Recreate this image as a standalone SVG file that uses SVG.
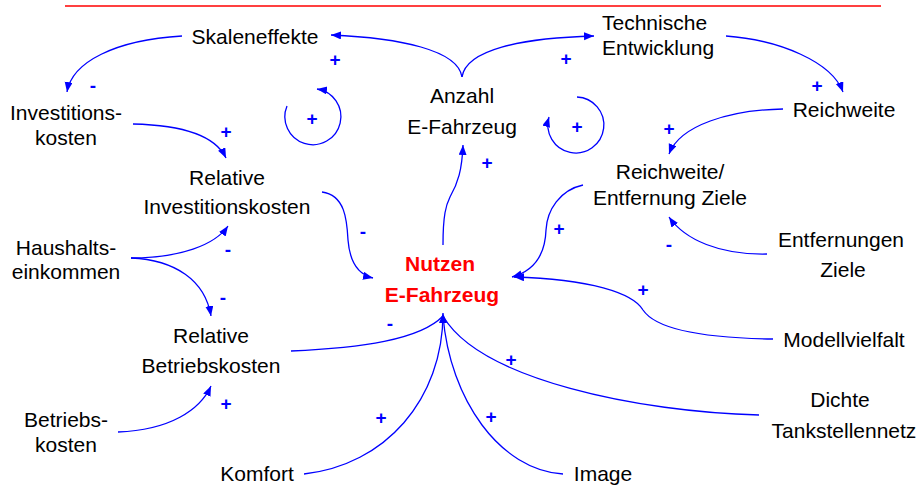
<svg xmlns="http://www.w3.org/2000/svg" width="919" height="487" viewBox="0 0 919 487">
<style>
.t{font-family:"Liberation Sans",Arial,sans-serif;font-size:21px;fill:#000;text-anchor:middle}
.s{text-anchor:start}
.n{font-family:"Liberation Sans",Arial,sans-serif;font-size:21px;font-weight:bold;fill:#FF0000;text-anchor:middle}
.l{font-family:"Liberation Sans",Arial,sans-serif;font-size:19px;font-weight:bold;fill:#0000FF;text-anchor:middle}
.c{fill:none;stroke:#0000FF;stroke-width:1.3;marker-end:url(#ah)}
.p{fill:none;stroke:#0000FF;stroke-width:1.3}
</style>
<defs>
<marker id="ah" markerUnits="userSpaceOnUse" markerWidth="11" markerHeight="9" refX="10" refY="4" orient="auto">
<path d="M0,0 L10,4 L0,8 z" fill="#0000FF"/>
</marker>
</defs>
<line x1="65" y1="6" x2="881" y2="6" stroke="#FF0000" stroke-width="1.5"/>
<g id="connectors">
<path class="c" d="M182,36 C115,40 72,62 67,92"/>
<path class="c" d="M462,77 C458,50 400,38 331,35"/>
<path class="c" d="M462,77 C466,50 520,38 594,36"/>
<path class="c" d="M726,36 C780,40 832,62 843,92"/>
<path class="c" d="M783,109 C730,110 680,125 669,154"/>
<path class="c" d="M133,124 C180,125 215,135 226,158"/>
<path class="c" d="M131,258 C180,258 215,245 228,226"/>
<path class="c" d="M131,258 C175,260 205,280 211,316"/>
<path class="c" d="M322,192 C345,195 347,220 348,240 C350,265 360,275 373,278"/>
<path class="c" d="M443,245 C443,215 446,205 450,197 C458,183 462,170 463,145"/>
<path class="c" d="M583,185 C560,190 547,210 546,230 C545,260 530,272 512,277"/>
<path class="c" d="M767,254 C720,255 685,240 669,217"/>
<path class="c" d="M773,339 C700,338 655,328 643,310 C633,293 590,279 514,277"/>
<path class="p" d="M291,351 C360,348 420,340 443,316"/>
<path class="c" d="M304,474 C385,465 443,400 443,313"/>
<path class="p" d="M563,474 C500,470 450,400 443,316"/>
<path class="p" d="M759,415 C640,412 480,380 443,316"/>
<path class="c" d="M118,432 C170,430 200,410 211,386"/>
<path class="c" d="M287,106 A28,28 0 1 0 317,89"/>
<path class="c" d="M577,97 A28,28 0 1 1 549,117"/>
</g>
<g id="labels">
<text class="l" x="335" y="66">+</text>
<text class="l" x="93" y="92">-</text>
<text class="l" x="312" y="125">+</text>
<text class="l" x="226" y="138">+</text>
<text class="l" x="566" y="65">+</text>
<text class="l" x="817" y="92">+</text>
<text class="l" x="669" y="135">+</text>
<text class="l" x="577" y="133">+</text>
<text class="l" x="487" y="169">+</text>
<text class="l" x="363" y="238">-</text>
<text class="l" x="228" y="256">-</text>
<text class="l" x="559" y="235">+</text>
<text class="l" x="669" y="251">-</text>
<text class="l" x="223" y="304">-</text>
<text class="l" x="643" y="296">+</text>
<text class="l" x="390" y="330">-</text>
<text class="l" x="511" y="366">+</text>
<text class="l" x="226" y="410">+</text>
<text class="l" x="381" y="424">+</text>
<text class="l" x="491" y="423">+</text>
</g>
<g id="skaleneffekte"><text class="t" x="255" y="44">Skaleneffekte</text></g>
<g id="technische"><text class="t s" x="602" y="30">Technische</text><text class="t s" x="602" y="55">Entwicklung</text></g>
<g id="investitionskosten"><text class="t" x="66" y="120">Investitions-</text><text class="t" x="66" y="145">kosten</text></g>
<g id="anzahl"><text class="t" x="462" y="103">Anzahl</text><text class="t" x="462" y="134">E-Fahrzeug</text></g>
<g id="reichweite"><text class="t" x="844" y="117">Reichweite</text></g>
<g id="relinvest"><text class="t" x="227" y="185">Relative</text><text class="t" x="227" y="214">Investitionskosten</text></g>
<g id="reichweiteentf"><text class="t" x="670" y="179">Reichweite/</text><text class="t" x="670" y="205">Entfernung Ziele</text></g>
<g id="haushalt"><text class="t" x="66" y="255">Haushalts-</text><text class="t" x="66" y="279">einkommen</text></g>
<g id="entfernungen"><text class="t" x="841" y="247">Entfernungen</text><text class="t" x="843" y="277">Ziele</text></g>
<g id="nutzen"><text class="n" x="440" y="271">Nutzen</text><text class="n" x="442" y="302">E-Fahrzeug</text></g>
<g id="modellvielfalt"><text class="t" x="844" y="347">Modellvielfalt</text></g>
<g id="relbetrieb"><text class="t" x="211" y="343">Relative</text><text class="t" x="211" y="373">Betriebskosten</text></g>
<g id="dichte"><text class="t" x="840" y="407">Dichte</text><text class="t" x="844" y="438">Tankstellennetz</text></g>
<g id="betriebskosten"><text class="t" x="66" y="427">Betriebs-</text><text class="t" x="66" y="452">kosten</text></g>
<g id="komfort"><text class="t" x="257" y="481">Komfort</text></g>
<g id="image"><text class="t" x="603" y="481">Image</text></g>
</svg>
